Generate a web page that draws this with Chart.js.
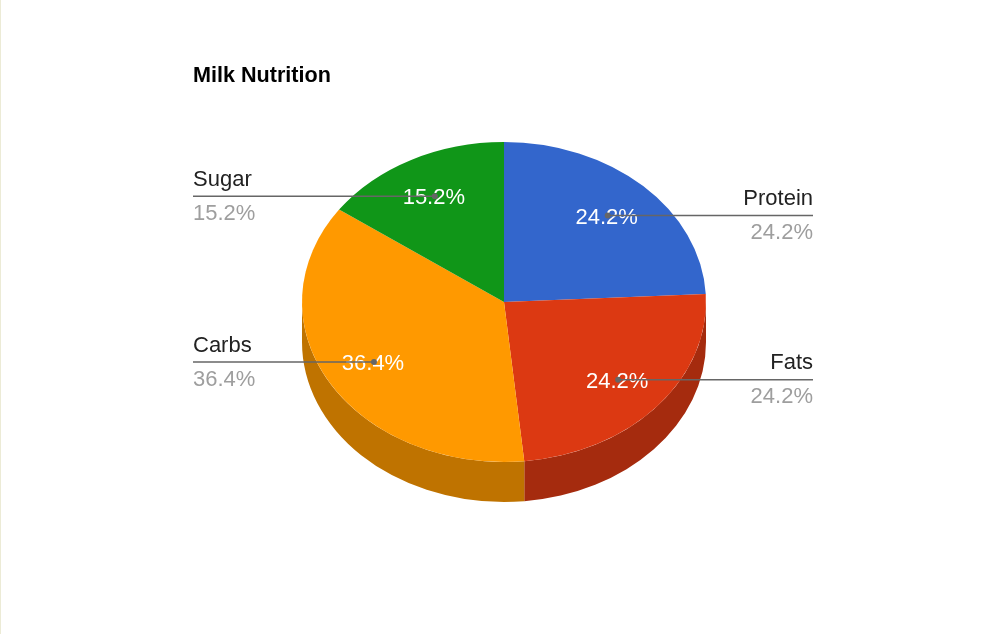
<!DOCTYPE html>
<html>
<head>
<meta charset="utf-8">
<title>Milk Nutrition</title>
<script src="https://cdn.jsdelivr.net/npm/chart.js@4.4.1/dist/chart.umd.min.js"></script>
<style>
  html, body { margin: 0; padding: 0; background: #fff; }
  body { width: 1002px; height: 634px; overflow: hidden; position: relative; }
  #edge { position: absolute; left: 0; top: 0; width: 1px; height: 634px; background: #ecebd6; }
  #chart { position: absolute; left: 0; top: 0; }
</style>
</head>
<body>
<canvas id="chart" width="1002" height="634"></canvas>
<div id="edge"></div>
<script>
const title = "Milk Nutrition";
const labels = ["Protein", "Fats", "Carbs", "Sugar"];
const shares = [24.2, 24.2, 36.4, 15.2];
const colors = ["#3366cc", "#dc3912", "#ff9900", "#109618"];
const sideColors = ["#264c99", "#a52b0e", "#bf7300", "#0c7012"];

const TILT = 160 / 202;   // squash of the top face
const DEPTH = 40;         // thickness of the pie
const LABEL_POS = 0.745;  // where the leader line meets the slice
const FONT = "Arial, 'Liberation Sans', sans-serif";

const pie3d = {
  id: "pie3d",
  beforeDatasetsDraw(chart) {
    const ctx = chart.ctx;
    const arcs = chart.getDatasetMeta(0).data;
    const cx = arcs[0].x, cy = arcs[0].y, r = arcs[0].outerRadius;
    ctx.save();
    // side wall: only the front half (0..PI) is visible
    arcs.forEach((arc, i) => {
      const s = Math.max(arc.startAngle, 0), e = Math.min(arc.endAngle, Math.PI);
      if (e <= s) return;
      ctx.beginPath();
      ctx.ellipse(cx, cy, r, r * TILT, 0, s, e);
      ctx.ellipse(cx, cy + DEPTH, r, r * TILT, 0, e, s, true);
      ctx.closePath();
      ctx.fillStyle = sideColors[i];
      ctx.fill();
    });
    ctx.translate(0, cy);
    ctx.scale(1, TILT);
    ctx.translate(0, -cy);
  },
  afterDatasetsDraw(chart) {
    const ctx = chart.ctx;
    ctx.restore();
    const arcs = chart.getDatasetMeta(0).data;
    const cx = arcs[0].x, cy = arcs[0].y, r = arcs[0].outerRadius;
    const total = shares.reduce((a, b) => a + b, 0);

    ctx.save();
    ctx.font = "bold 21.6px " + FONT;
    ctx.fillStyle = "#000";
    ctx.textAlign = "left";
    ctx.textBaseline = "alphabetic";
    ctx.fillText(title, cx - r - 109, 82);

    arcs.forEach((arc, i) => {
      const mid = (arc.startAngle + arc.endAngle) / 2;
      const px = cx + LABEL_POS * r * Math.cos(mid);
      const py = cy + LABEL_POS * r * TILT * Math.sin(mid);
      const pct = (shares[i] / total * 100).toFixed(1) + "%";

      ctx.font = "22px " + FONT;
      ctx.fillStyle = "#ffffff";
      ctx.textAlign = "center";
      ctx.textBaseline = "middle";
      ctx.fillText(pct, px - 1, py + 2);

      const left = Math.cos(mid) < 0;
      const edge = left ? cx - r - 109 : cx + r + 107;
      ctx.strokeStyle = "#666666";
      ctx.lineWidth = 1.5;
      ctx.beginPath();
      ctx.moveTo(edge, py);
      ctx.lineTo(px, py);
      ctx.stroke();
      ctx.fillStyle = "#666666";
      ctx.beginPath();
      ctx.arc(px, py, 3, 0, Math.PI * 2);
      ctx.fill();

      ctx.textAlign = left ? "left" : "right";
      ctx.textBaseline = "alphabetic";
      ctx.fillStyle = "#222222";
      ctx.fillText(labels[i], edge, py - 10.5);
      ctx.fillStyle = "#9e9e9e";
      ctx.fillText(pct, edge, py + 23.5);
    });
    ctx.restore();
  }
};

new Chart(document.getElementById("chart"), {
  type: "pie",
  data: {
    labels: labels,
    datasets: [{
      data: shares,
      backgroundColor: colors,
      borderWidth: 0,
      hoverOffset: 0,
      offset: 0
    }]
  },
  options: {
    responsive: false,
    devicePixelRatio: 1,
    animation: false,
    layout: { padding: { left: 302, right: 296, top: 100, bottom: 130 } },
    plugins: { legend: { display: false }, tooltip: { enabled: false }, title: { display: false } }
  },
  plugins: [pie3d]
});
</script>
</body>
</html>
